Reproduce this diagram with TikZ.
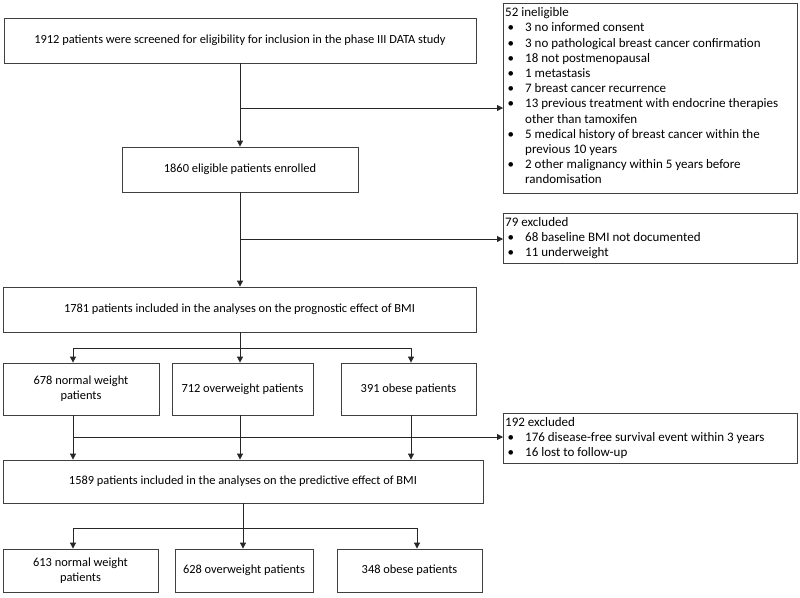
\documentclass[tikz,border=0pt]{standalone}
\usepackage{fontspec}
\setmainfont{Carlito}
\usetikzlibrary{arrows.meta}
\newcommand{\bul}{\hspace*{2.5pt}\makebox[17.5pt][l]{\textbullet}}
\newcommand{\ind}{\hspace*{20pt}}
\begin{document}
\begin{tikzpicture}[x=1pt,y=-1pt,
  box/.style={draw=black!75, line width=0.8pt, inner sep=1pt, align=center,
    font=\fontsize{12.4}{15}\selectfont},
  sidebox/.style={draw=black!75, line width=0.8pt, anchor=north west},
  sidetext/.style={anchor=north west, inner sep=0pt, align=left,
    font=\fontsize{13}{15.2}\selectfont},
  arr/.style={draw=black!85, line width=0.8pt, -{Triangle[length=6pt,width=6pt]}},
  ln/.style={draw=black!85, line width=0.8pt}]
\useasboundingbox (0,0) rectangle (800,597);
% main boxes
\node[box, minimum width=472pt, minimum height=45pt] (b1) at (240,40.5)
  {1912 patients were screened for eligibility for inclusion in the phase III DATA study};
\node[box, minimum width=236pt, minimum height=45pt] (b2) at (240,169.5)
  {1860 eligible patients enrolled};
\node[box, minimum width=473pt, minimum height=45pt] (b3) at (239.5,309.5)
  {1781 patients included in the analyses on the prognostic effect of BMI};
\node[box, minimum width=156pt, minimum height=52pt] (ba) at (81,389)
  {678 normal weight\\patients};
\node[box, minimum width=141pt, minimum height=52pt] (bb) at (242.5,389)
  {712 overweight patients};
\node[box, minimum width=135pt, minimum height=52pt] (bc) at (408.5,389)
  {391 obese patients};
\node[box, minimum width=480pt, minimum height=43pt] (b4) at (243,481.5)
  {1589 patients included in the analyses on the predictive effect of BMI};
\node[box, minimum width=155pt, minimum height=43pt] (bd) at (80.5,570.5)
  {613 normal weight\\patients};
\node[box, minimum width=138pt, minimum height=43pt] (be) at (244,570.5)
  {628 overweight patients};
\node[box, minimum width=145pt, minimum height=43pt] (bf) at (409.5,570.5)
  {348 obese patients};
% side boxes
\node[sidebox, minimum width=294pt, minimum height=190pt] (inel) at (503,3) {};
\node[sidetext] (inelt) at (505,7.5) {52 ineligible\\
\bul 3 no informed consent\\
\bul 3 no pathological breast cancer confirmation\\
\bul 18 not postmenopausal\\
\bul 1 metastasis\\
\bul 7 breast cancer recurrence\\
\bul 13 previous treatment with endocrine therapies\\
\ind other than tamoxifen\\
\bul 5 medical history of breast cancer within the\\
\ind previous 10 years\\
\bul 2 other malignancy within 5 years before\\
\ind randomisation};
\node[sidebox, minimum width=294pt, minimum height=50pt] (ex1) at (503,213) {};
\node[sidetext] (ex1t) at (505,217) {79 excluded\\
\bul 68 baseline BMI not documented\\
\bul 11 underweight};
\node[sidebox, minimum width=294pt, minimum height=50pt] (ex2) at (503,413) {};
\node[sidetext] (ex2t) at (505,417) {192 excluded\\
\bul 176 disease-free survival event within 3 years\\
\bul 16 lost to follow-up};
% connectors
\coordinate (j1) at (240,108);
\draw[arr] (b1.south) -- (b2.north);
\draw[arr] (j1) -- (j1 -| inel.west);
\coordinate (j2) at (240,239);
\draw[arr] (b2.south) -- (b3.north -| b2.south);
\draw[arr] (j2) -- (j2 -| ex1.west);
% split 1
\coordinate (s1) at (240,348);
\coordinate (s1a) at (73,348);
\coordinate (s1c) at (411,348);
\draw[ln] (b3.south -| s1) -- (s1);
\draw[ln] (s1a) -- (s1c);
\draw[arr] (s1a) -- (s1a |- ba.north);
\draw[arr] (s1) -- (s1 |- bb.north);
\draw[arr] (s1c) -- (s1c |- bc.north);
% merge
\coordinate (m1) at (73,437);
\draw[arr] (ba.south -| m1) -- (b4.north -| m1);
\draw[arr] (bb.south -| s1) -- (b4.north -| s1);
\draw[arr] (bc.south -| s1c) -- (b4.north -| s1c);
\draw[arr] (m1) -- (m1 -| ex2.west);
% split 2
\coordinate (s2) at (243,528);
\coordinate (s2a) at (73,528);
\coordinate (s2c) at (417,528);
\draw[ln] (b4.south -| s2) -- (s2);
\draw[ln] (s2a) -- (s2c);
\draw[arr] (s2a) -- (s2a |- bd.north);
\draw[arr] (s2) -- (s2 |- be.north);
\draw[arr] (s2c) -- (s2c |- bf.north);
\end{tikzpicture}
\end{document}
